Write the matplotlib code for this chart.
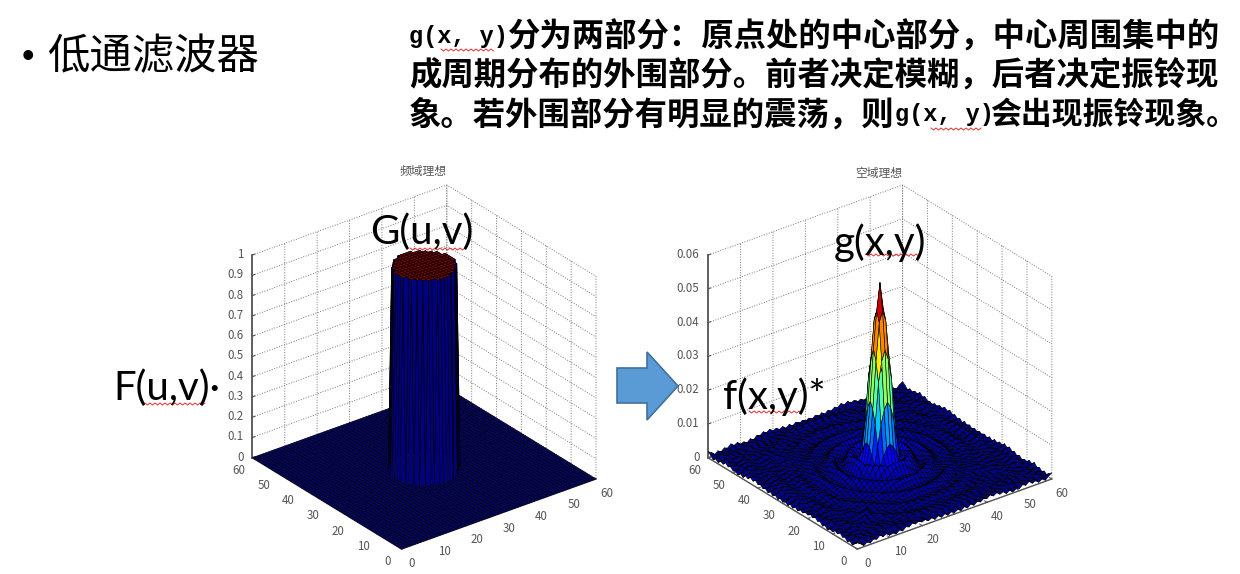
import numpy as np
import matplotlib
matplotlib.use('Agg')
import matplotlib.pyplot as plt
from matplotlib.patches import Polygon

plt.rcParams['font.family'] = ['Noto Sans CJK SC', 'DejaVu Sans']

# half width (in grid cells) of the disc, for row offset 0,1,2.. from the centre
disc_half_width = [8, 8, 8, 7, 7, 6, 5, 4, 2]

# spatial side, units of 1e-4, one octant read row by row from the centre out
octant = [
    [550],
    [470, 440],
    [360, 330, 270],
    [210, 190, 150, 90],
    [90, 80, 60, 35, 30],
    [30, 30, 32, 34, 40, 50],
    [35, 36, 39, 44, 49, 46, 30],
    [50, 50, 48, 45, 41, 28, 16, 10],
    [44, 42, 37, 29, 19, 13, 10, 18, 26],
    [18, 17, 15, 12, 10, 12, 21, 28, 32, 27],
    [10, 11, 12, 15, 20, 25, 30, 33, 27, 18, 12],
    [24, 24, 25, 28, 30, 33, 28, 25, 17, 13, 12, 14],
    [32, 32, 31, 29, 28, 25, 18, 14, 12, 11, 14, 20, 24],
    [25, 25, 23, 20, 17, 14, 12, 11, 12, 16, 21, 25, 19, 14],
    [12, 13, 12, 12, 11, 11, 12, 15, 19, 22, 22, 19, 14, 11, 16],
    [11, 9, 12, 13, 12, 16, 19, 21, 24, 20, 16, 13, 11, 15, 12, 20],
    [18, 20, 18, 21, 20, 23, 22, 20, 18, 14, 11, 15, 10, 13, 19, 17, 14],
    [24, 22, 24, 21, 23, 19, 17, 14, 12, 10, 14, 9, 14, 17, 19, 14, 10, 18],
    [16, 18, 15, 14, 12, 12, 9, 13, 8, 12, 10, 16, 18, 17, 13, 15, 8, 13, 22],
    [9, 11, 8, 12, 7, 11, 8, 12, 10, 16, 14, 19, 15, 13, 9, 14, 7, 12, 16, 14],
    [12, 7, 13, 9, 14, 10, 16, 13, 18, 16, 17, 12, 11, 8, 13, 7, 12, 15, 17, 12, 21],
    [17, 14, 18, 13, 19, 15, 20, 15, 17, 12, 13, 8, 12, 7, 11, 12, 16, 13, 16, 10, 14, 9],
    [20, 16, 21, 15, 18, 13, 16, 10, 13, 8, 12, 7, 11, 10, 15, 12, 17, 11, 13, 6, 12, 8, 18],
    [13, 10, 15, 9, 13, 7, 12, 6, 11, 6, 12, 9, 15, 12, 17, 11, 14, 7, 11, 7, 13, 10, 14, 12],
    [8, 12, 6, 11, 6, 12, 7, 13, 8, 14, 10, 16, 12, 17, 10, 13, 6, 11, 6, 12, 9, 14, 9, 13, 7],
    [12, 6, 13, 7, 14, 9, 15, 10, 16, 11, 17, 12, 14, 8, 11, 5, 11, 7, 13, 9, 15, 9, 13, 6, 12, 8],
    [16, 10, 17, 11, 18, 12, 18, 13, 17, 11, 15, 8, 12, 5, 10, 6, 12, 8, 15, 11, 16, 8, 12, 5, 11, 7, 14],
    [19, 14, 21, 13, 20, 12, 17, 10, 14, 7, 12, 5, 10, 6, 13, 8, 15, 11, 18, 9, 14, 6, 10, 5, 12, 8, 15, 10],
    [13, 18, 11, 19, 10, 16, 8, 13, 6, 11, 5, 10, 6, 12, 8, 15, 10, 18, 13, 17, 9, 12, 5, 10, 6, 13, 8, 16, 11],
    [7, 14, 5, 15, 6, 13, 5, 11, 6, 12, 8, 14, 11, 19, 13, 17, 9, 13, 5, 10, 7, 14, 9, 16, 10, 13, 6, 11, 5, 12],
    [4, 10, 3, 11, 4, 12, 5, 13, 8, 15, 11, 19, 12, 18, 10, 14, 5, 11, 3, 9, 6, 14, 9, 17, 8, 12, 4, 10, 3, 12, 18],
]

xy_ticks = [0, 10, 20, 30, 40, 50, 60]
left_zticks = [0, 0.1, 0.2, 0.3, 0.4, 0.5, 0.6, 0.7, 0.8, 0.9, 1]
left_zlabels = ['0', '0.1', '0.2', '0.3', '0.4', '0.5', '0.6', '0.7', '0.8', '0.9', '1']
right_zticks = [0, 0.01, 0.02, 0.03, 0.04, 0.05, 0.06]
right_zlabels = ['0', '0.01', '0.02', '0.03', '0.04', '0.05', '0.06']

N = 30
u = np.arange(2 * N + 1)
X, Y = np.meshgrid(u, u)

Z_left = np.zeros((2 * N + 1, 2 * N + 1))
for off, w in enumerate(disc_half_width):
    Z_left[N + off, N - w:N + w + 1] = 1
    Z_left[N - off, N - w:N + w + 1] = 1

Z_right = np.zeros((2 * N + 1, 2 * N + 1))
for i, row in enumerate(octant):
    for j, val in enumerate(row):
        for a, b in [(i, j), (j, i)]:
            for sa in (-1, 1):
                for sb in (-1, 1):
                    Z_right[N + sa * a, N + sb * b] = val * 1e-4

W, H = 1240, 574
fig = plt.figure(figsize=(W / 100, H / 100), dpi=100, facecolor='white')


def face_values(Z, func):
    # one value per cell from its four corners, kept in the shape plot_surface indexes
    out = Z.copy()
    out[:-1, :-1] = func([Z[:-1, :-1], Z[1:, :-1], Z[:-1, 1:], Z[1:, 1:]], axis=0)
    return out


def make_axes(left, Z, func, vmax, zmax, zticks, zlabels):
    ax = fig.add_axes([left / W, -8.7 / H, 420 / W, 420 / H], projection='3d')
    ax.set_proj_type('ortho')
    ax.view_init(elev=28, azim=-127.5)
    ax.set_box_aspect((244.5, 244.5, 229), zoom=0.961)
    ax.patch.set_alpha(0)
    surf = ax.plot_surface(X, Y, Z, rstride=1, cstride=1, shade=False,
                           facecolors=plt.cm.jet(np.clip(face_values(Z, func) / vmax, 0, 1)), linewidth=0.4)
    surf.set_edgecolor('black')
    ax.set_xlim(0, 60)
    ax.set_ylim(0, 60)
    ax.set_zlim(0, zmax)
    ax.set_xticks(xy_ticks)
    ax.set_yticks(xy_ticks)
    ax.set_zticks(zticks)
    ax.set_zticklabels(zlabels)
    for axis in (ax.xaxis, ax.yaxis, ax.zaxis):
        axis.set_pane_color((1, 1, 1, 0))
        axis._axinfo['grid'].update(color='#777777', linestyle=':', linewidth=0.7)
        axis._axinfo['tick'].update(inward_factor=0.0, outward_factor=0.15)
        axis.line.set_color('#555555')
        axis.line.set_linewidth(1.0)
    ax.zaxis.line.set_linewidth(1.3)
    ax.tick_params(axis='both', labelsize=8.3, labelcolor='#555555', color='#555555', pad=3)
    ax.tick_params(axis='z', pad=-4)
    for lab in ax.get_zticklabels():
        lab.set_ha('right')
        lab.set_va('center')
    for lab in ax.get_xticklabels() + ax.get_yticklabels():
        lab.set_va('bottom')
    return ax


ax1 = make_axes(208.5, Z_left, np.min, 1, 1, left_zticks, left_zlabels)
ax2 = make_axes(664.3, Z_right, np.mean, 0.052, 0.06, right_zticks, right_zlabels)

# overlay in pixel coordinates for the slide text
ov = fig.add_axes([0, 0, 1, 1], zorder=10)
ov.set_xlim(0, W)
ov.set_ylim(H, 0)
ov.axis('off')

ov.text(423, 172, '频域理想', fontsize=8.5, color='#555555', ha='center', va='center')
ov.text(879, 173, '空域理想', fontsize=8.5, color='#555555', ha='center', va='center')

ov.text(22, 57, '•', fontsize=26, color='black', va='center', family=['Liberation Sans'])
ov.text(47, 57, '低通滤波器', fontsize=30.5, color='black', va='center')

cjk = dict(fontsize=23.3, fontweight='bold', color='black', va='center')
mono = dict(fontsize=17, fontweight='bold', color='black', va='center', family=['Liberation Mono'])
ov.text(409, 37, 'g(x, y)', **mono)
ov.text(508, 37, '分为两部分：原点处的中心部分，中心周围集中的', **cjk)
ov.text(409, 76, '成周期分布的外围部分。前者决定模糊，后者决定振铃现', **cjk)
ov.text(409, 115, '象。若外围部分有明显的震荡，则', **cjk)
ov.text(895, 115, 'g(x, y)', **mono)
ov.text(990, 115, '会出现振铃现象。', fontsize=22.2, fontweight='bold', color='black', va='center')

lab = dict(fontsize=29, color='black', va='center', family=['Lato'])
ov.text(370, 232, 'G(u,v)', **lab)
ov.text(113, 388, 'F(u,v)·', **lab)
ov.text(834, 243, 'g(x,y)', **lab)
ov.text(723, 397, 'f(x,y)*', **lab)

arrow = Polygon([(617, 368), (647, 368), (647, 352), (678, 386), (647, 420), (647, 403), (617, 403)],
                closed=True, facecolor='#5B9BD5', edgecolor='#41719C', linewidth=1.2)
ov.add_patch(arrow)


# red spell-check squiggles
def squiggle(x0, x1, y):
    xs = np.arange(x0, x1 + 1, 2.5)
    ys = y + np.where(np.arange(len(xs)) % 2 == 0, -1, 1)
    ov.plot(xs, ys, color='#E03030', linewidth=0.7)


squiggle(441, 493, 50)
squiggle(931, 981, 129)
squiggle(410, 465, 249)
squiggle(145, 205, 404)
squiggle(866, 918, 255)
squiggle(749, 802, 412)

fig.savefig('out.png', dpi=100)
